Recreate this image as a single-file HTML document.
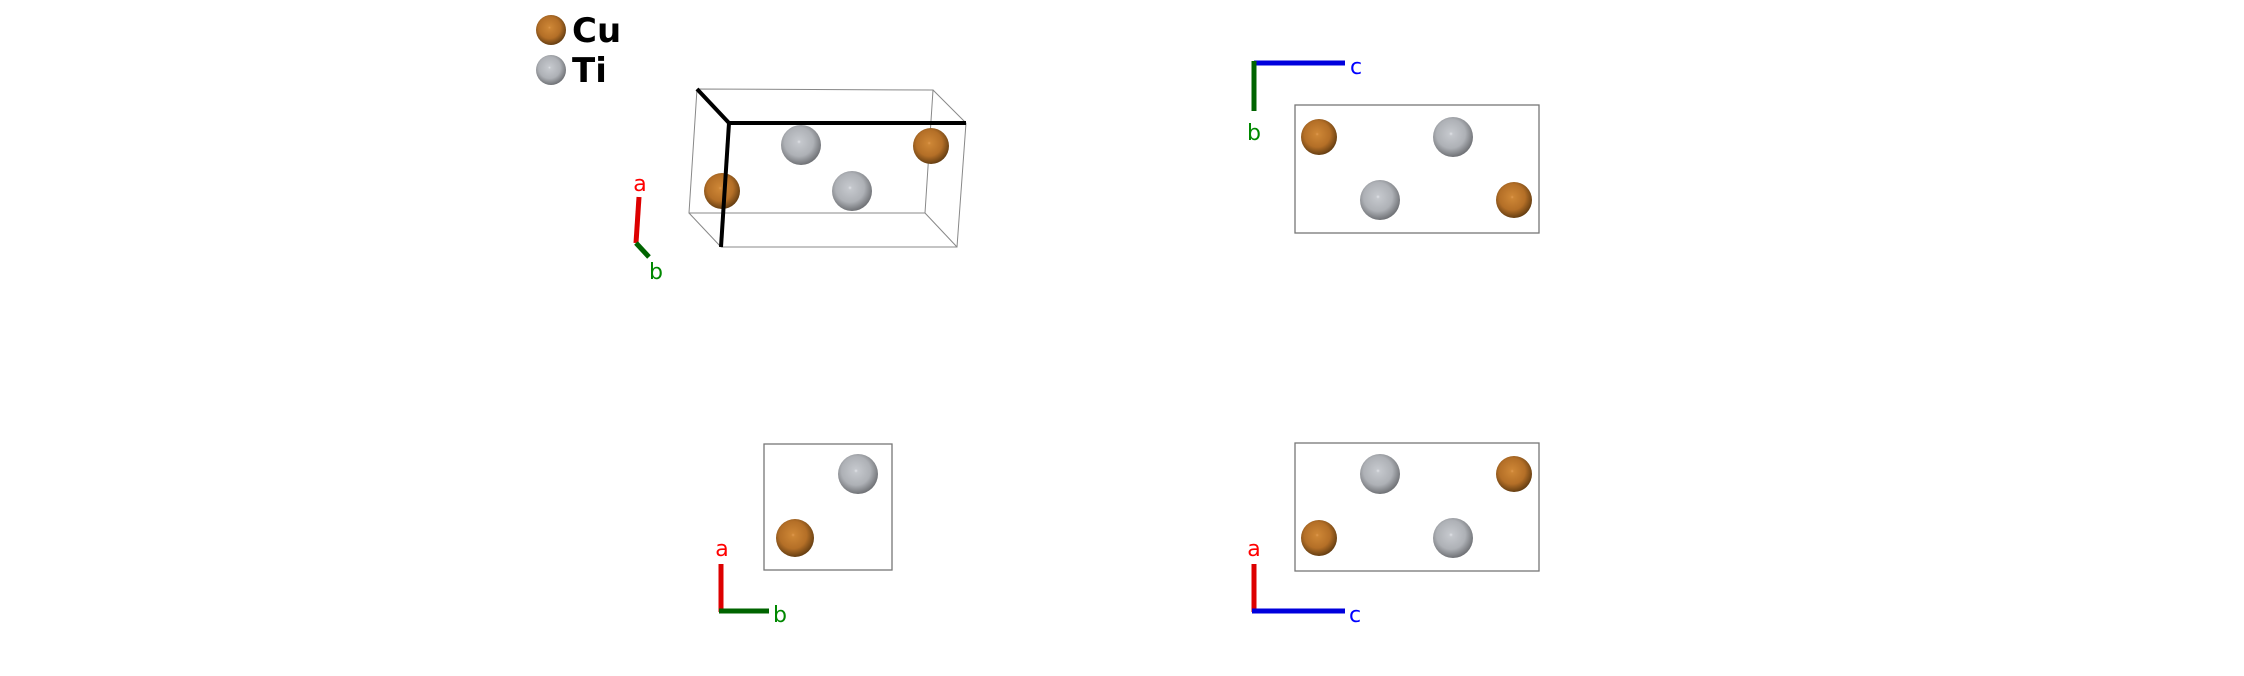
<!DOCTYPE html>
<html><head><meta charset="utf-8"><style>html,body{margin:0;padding:0;background:#fff}svg{display:block}</style></head>
<body>
<svg width="2244" height="676" viewBox="0 0 2244 676" xmlns="http://www.w3.org/2000/svg" font-family="'DejaVu Sans','Liberation Sans',sans-serif">
<defs>
<radialGradient id="cu" cx="0.45" cy="0.42" r="0.6">
<stop offset="0" stop-color="#e09a50"/><stop offset="0.08" stop-color="#cc8535"/><stop offset="0.6" stop-color="#b46f27"/><stop offset="1" stop-color="#5f3a10"/></radialGradient>
<radialGradient id="ti" cx="0.45" cy="0.42" r="0.6">
<stop offset="0" stop-color="#e2e4e8"/><stop offset="0.08" stop-color="#c4c7cc"/><stop offset="0.6" stop-color="#aeb1b6"/><stop offset="1" stop-color="#6a6c70"/></radialGradient>
</defs>
<!-- legend -->
<circle cx="551" cy="30" r="15" fill="url(#cu)"/>
<text x="572" y="42" font-size="34" font-weight="bold" fill="#000">Cu</text>
<circle cx="551" cy="70" r="15" fill="url(#ti)"/>
<text x="572" y="82" font-size="34" font-weight="bold" fill="#000">Ti</text>

<!-- 3D box -->
<g stroke="#888" stroke-width="1" fill="none">
<polyline points="697,89 933,90 925,213 689,213 697,89"/>
<line x1="933" y1="90" x2="966" y2="123"/>
<line x1="689" y1="213" x2="721" y2="247"/>
<line x1="925" y1="213" x2="957" y2="247"/>
<polyline points="966,123 957,247 721,247"/>
</g>
<circle cx="801" cy="145" r="20" fill="url(#ti)"/>
<circle cx="931" cy="146" r="18" fill="url(#cu)"/>
<circle cx="852" cy="191" r="20" fill="url(#ti)"/>
<circle cx="722" cy="191" r="18" fill="url(#cu)"/>
<g stroke="#000" stroke-width="4" fill="none">
<line x1="697" y1="89" x2="729" y2="123"/>
<line x1="729" y1="123" x2="966" y2="123"/>
<line x1="729" y1="123" x2="721" y2="247"/>
</g>
<line x1="639" y1="197" x2="636" y2="243" stroke="#d00" stroke-width="5"/>
<line x1="636" y1="243" x2="649" y2="257" stroke="#006400" stroke-width="5"/>
<text x="640" y="191" font-size="22" fill="#f00" text-anchor="middle">a</text>
<text x="656" y="279" font-size="22" fill="#080" text-anchor="middle">b</text>

<!-- top right -->
<rect x="1295" y="105" width="244" height="128" fill="none" stroke="#777" stroke-width="1.3"/>
<circle cx="1319" cy="137" r="18" fill="url(#cu)"/>
<circle cx="1453" cy="137" r="20" fill="url(#ti)"/>
<circle cx="1380" cy="200" r="20" fill="url(#ti)"/>
<circle cx="1514" cy="200" r="18" fill="url(#cu)"/>
<line x1="1254" y1="63" x2="1345" y2="63" stroke="#0000dd" stroke-width="5"/>
<line x1="1254" y1="61" x2="1254" y2="111" stroke="#006400" stroke-width="5"/>
<text x="1356" y="74" font-size="22" fill="#00f" text-anchor="middle">c</text>
<text x="1254" y="140" font-size="22" fill="#080" text-anchor="middle">b</text>

<!-- bottom left -->
<rect x="764" y="444" width="128" height="126" fill="none" stroke="#777" stroke-width="1.3"/>
<circle cx="858" cy="474" r="20" fill="url(#ti)"/>
<circle cx="795" cy="538" r="19" fill="url(#cu)"/>
<line x1="721" y1="564" x2="721" y2="612" stroke="#d00" stroke-width="5"/>
<line x1="719" y1="611" x2="769" y2="611" stroke="#006400" stroke-width="5"/>
<text x="722" y="556" font-size="22" fill="#f00" text-anchor="middle">a</text>
<text x="780" y="622" font-size="22" fill="#080" text-anchor="middle">b</text>

<!-- bottom right -->
<rect x="1295" y="443" width="244" height="128" fill="none" stroke="#777" stroke-width="1.3"/>
<circle cx="1380" cy="474" r="20" fill="url(#ti)"/>
<circle cx="1514" cy="474" r="18" fill="url(#cu)"/>
<circle cx="1319" cy="538" r="18" fill="url(#cu)"/>
<circle cx="1453" cy="538" r="20" fill="url(#ti)"/>
<line x1="1254" y1="564" x2="1254" y2="612" stroke="#d00" stroke-width="5"/>
<line x1="1252" y1="611" x2="1345" y2="611" stroke="#0000dd" stroke-width="5"/>
<text x="1254" y="556" font-size="22" fill="#f00" text-anchor="middle">a</text>
<text x="1355" y="622" font-size="22" fill="#00f" text-anchor="middle">c</text>
</svg>
</body></html>
